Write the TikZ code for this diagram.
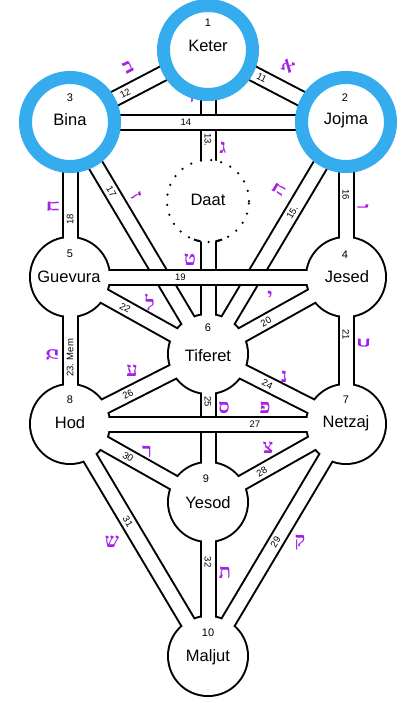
\documentclass[tikz,border=0pt]{standalone}
\usepackage{fontspec}
\setmainfont{Liberation Sans}
\newfontfamily\hebfont[Script=Hebrew]{Liberation Serif}
\TeXXeTstate=1
\usetikzlibrary{calc}
\definecolor{ringblue}{RGB}{52,172,238}
\definecolor{hebpurple}{RGB}{165,32,230}
\begin{document}
\begin{tikzpicture}[x=1pt,y=-1pt,
  seph/.style={circle, minimum size=80pt, inner sep=0pt},
  sname/.style={font=\fontsize{16.5}{16.5}\selectfont, inner sep=0pt},
  snum/.style={font=\fontsize{11}{11}\selectfont, inner sep=0pt},
  pnum/.style={font=\fontsize{9.5}{9.5}\selectfont, inner sep=0pt},
  heb/.style={text=hebpurple, font=\hebfont\bfseries\fontsize{20}{20}\selectfont, inner sep=0pt},
  chanout/.style={line width=17pt, draw=black},
  chanin/.style={line width=13pt, draw=white},
  wall/.style={line width=2pt, draw=black},
  ring/.style={draw=ringblue, line width=13pt},
]
\fill[white] (0,0) rectangle (415,710);
\useasboundingbox (0,0) rectangle (415,710);

% sephirot centres
\node[seph] (K) at (208,50) {};
\node[seph] (B) at (70,122) {};
\node[seph] (J) at (346,122) {};
\node[seph] (D) at (208,201) {};
\node[seph] (G) at (70,277) {};
\node[seph] (C) at (346,277) {};
\node[seph] (T) at (208,354) {};
\node[seph] (H) at (70,424) {};
\node[seph] (N) at (346,424) {};
\node[seph] (Y) at (208,502) {};
\node[seph] (M) at (208,656) {};

\def\allpaths{K/J, K/B, K/T, B/J, J/T, J/C, B/T, B/G, C/G, C/T, C/N, G/T, G/H, T/N, T/Y, T/H, N/H, N/Y, N/M, H/Y, H/M, Y/M}

% union outline: black layer
\foreach \a/\b in \allpaths { \draw[chanout] (\a.center) -- (\b.center); }
\foreach \n in {K,B,J,G,C,T,H,N,Y,M} { \fill[black] (\n.center) circle[radius=41pt]; }
% white layer
\foreach \a/\b in \allpaths { \draw[chanin] (\a.center) -- (\b.center); }
\foreach \n in {K,B,J,G,C,T,H,N,Y,M} { \fill[white] (\n.center) circle[radius=39pt]; }

% walls of the paths lying on top at crossings
\draw[wall] ($(B.center)+(44,-7.5)$) -- ($(J.center)+(-44,-7.5)$);
\draw[wall] ($(B.center)+(44,7.5)$) -- ($(J.center)+(-44,7.5)$);
\draw[wall] ($(G.center)+(39.3,-7.5)$) -- ($(C.center)+(-39.3,-7.5)$);
\draw[wall] ($(G.center)+(39.3,7.5)$) -- ($(C.center)+(-39.3,7.5)$);
\draw[wall] ($(H.center)+(39.3,-7.5)$) -- ($(N.center)+(-39.3,-7.5)$);
\draw[wall] ($(H.center)+(39.3,7.5)$) -- ($(N.center)+(-39.3,7.5)$);

% Daat
\fill[white] (D.center) circle[radius=41pt];
\draw[line width=2.5pt, line cap=round, dash pattern=on 0pt off 10.2pt] (D.center) circle[radius=41pt];
\draw[wall] ($(D.center)+(250:41pt)$) arc[start angle=250, end angle=259.5, radius=41pt];
\draw[wall] ($(D.center)+(280.5:41pt)$) arc[start angle=280.5, end angle=290, radius=41pt];

% Hebrew letters
\node[heb, rotate=27] (h12) at (128,67) {\beginR ב\endR};
\node[heb, rotate=-27] (h11) at (288,66) {\beginR א\endR};
\node[heb] (h14) at (190,97) {\beginR ד\endR};
\node[heb] (h13) at (223,148) {\beginR ג\endR};
\node[heb, rotate=59] (h15) at (279,190) {\beginR ה\endR};
\node[heb, rotate=-90] (h16) at (363,207) {\beginR ו\endR};
\node[heb, rotate=-59] (h17) at (136,196) {\beginR ז\endR};
\node[heb, rotate=90] (h18) at (53,207) {\beginR ח\endR};
\node[heb] (h19) at (190,260) {\beginR ט\endR};
\node[heb] (h20) at (270,297) {\beginR י\endR};
\node[heb, rotate=-90] (h21) at (364,343) {\beginR כ\endR};
\node[heb] (h22) at (150,302) {\beginR ל\endR};
\node[heb, rotate=90] (h23) at (52,355) {\beginR מ\endR};
\node[heb] (h24) at (284,377) {\beginR נ\endR};
\node[heb] (h25) at (224,408) {\beginR ס\endR};
\node[heb] (h26) at (132,371) {\beginR ע\endR};
\node[heb] (h27) at (265,408) {\beginR פ\endR};
\node[heb] (h28) at (268,448) {\beginR צ\endR};
\node[heb] (h29) at (300,543) {\beginR ק\endR};
\node[heb] (h30) at (147,452) {\beginR ר\endR};
\node[heb] (h31) at (112,542) {\beginR ש\endR};
\node[heb] (h32) at (225,573) {\beginR ת\endR};

% blue rings
\foreach \n in {K,B,J} { \draw[ring] (\n.center) circle[radius=44.5pt]; }

% sephirot names and numbers
\node[sname] (Kt) at ($(K.center)+(0,-4)$) {Keter};
\node[sname] (Bt) at ($(B.center)+(0,-2)$) {Bina};
\node[sname] (Jt) at ($(J.center)+(0,-2)$) {Jojma};
\node[sname] (Dt) at ($(D.center)+(0,-1)$) {Daat};
\node[sname] (Gt) at ($(G.center)+(-1,0)$) {Guevura};
\node[sname] (Ct) at ($(C.center)+(1,0)$) {Jesed};
\node[sname] (Tt) at ($(T.center)+(0,2)$) {Tiferet};
\node[sname] (Ht) at ($(H.center)+(0,-1)$) {Hod};
\node[sname] (Nt) at ($(N.center)+(0,-1)$) {Netzaj};
\node[sname] (Yt) at ($(Y.center)+(0,1)$) {Yesod};
\node[sname] (Mt) at ($(M.center)+(0,1)$) {Maljut};

\node[snum] (K1) at ($(K.center)+(0,-27)$) {1};
\node[snum] (J2) at ($(J.center)+(-1,-24)$) {2};
\node[snum] (B3) at ($(B.center)+(0,-24)$) {3};
\node[snum] (C4) at ($(C.center)+(-1,-22)$) {4};
\node[snum] (G5) at ($(G.center)+(0,-23)$) {5};
\node[snum] (T6) at ($(T.center)+(0,-26)$) {6};
\node[snum] (N7) at ($(N.center)+(0,-24)$) {7};
\node[snum] (H8) at ($(H.center)+(0,-24)$) {8};
\node[snum] (Y9) at ($(Y.center)+(-2,-23)$) {9};
\node[snum] (M10) at ($(M.center)+(0,-23)$) {10};

% path numbers
\path (B.center) -- (K.center) node[pnum, pos=0.4, sloped] (l12) {12};
\path (K.center) -- (J.center) node[pnum, pos=0.39, sloped] (l11) {11};
\path (K.center) -- (T.center) node[pnum, pos=0.296, rotate=-90] (l13) {13.};
\path (B.center) -- (J.center) node[pnum, pos=0.42] (l14) {14};
\path (T.center) -- (J.center) node[pnum, pos=0.61, sloped] (l15) {15.};
\path (J.center) -- (C.center) node[pnum, pos=0.47, rotate=-90] (l16) {16};
\path (B.center) -- (T.center) node[pnum, pos=0.3, sloped] (l17) {17};
\path (B.center) -- (G.center) node[pnum, pos=0.63, rotate=90] (l18) {18};
\path (G.center) -- (C.center) node[pnum, pos=0.4] (l19) {19};
\path (T.center) -- (C.center) node[pnum, pos=0.42, sloped] (l20) {20};
\path (C.center) -- (N.center) node[pnum, pos=0.39, rotate=-90] (l21) {21};
\path (G.center) -- (T.center) node[pnum, pos=0.4, sloped] (l22) {22};
\path (G.center) -- (H.center) node[pnum, pos=0.55, rotate=90] (l23) {23. Mem};
\path (T.center) -- (N.center) node[pnum, pos=0.43, sloped] (l24) {24};
\path (T.center) -- (Y.center) node[pnum, pos=0.32, rotate=-90] (l25) {25};
\path (H.center) -- (T.center) node[pnum, pos=0.42, sloped] (l26) {26};
\path (H.center) -- (N.center) node[pnum, pos=0.67] (l27) {27};
\path (Y.center) -- (N.center) node[pnum, pos=0.39, sloped] (l28) {28};
\path (M.center) -- (N.center) node[pnum, pos=0.49, sloped] (l29) {29};
\path (H.center) -- (Y.center) node[pnum, pos=0.42, sloped] (l30) {30};
\path (H.center) -- (M.center) node[pnum, pos=0.42, sloped] (l31) {31};
\path (Y.center) -- (M.center) node[pnum, pos=0.39, rotate=-90] (l32) {32};
\end{tikzpicture}
\end{document}
